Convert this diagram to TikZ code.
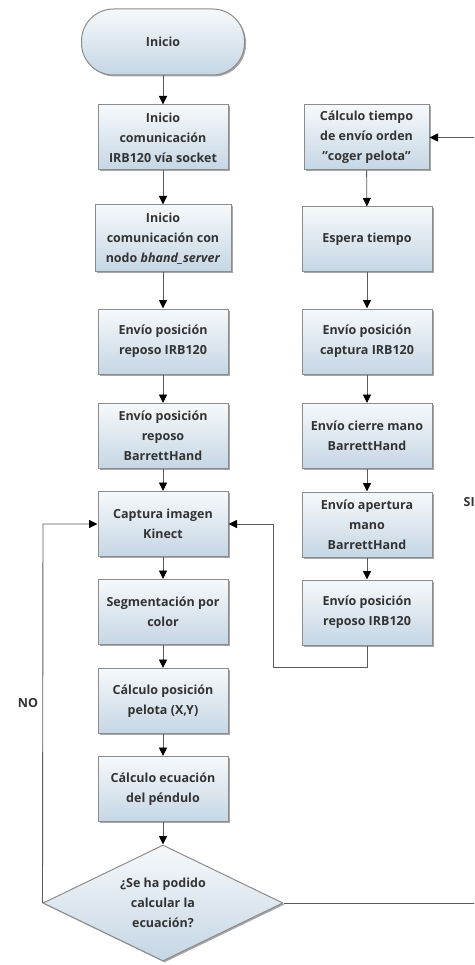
\documentclass[tikz,border=0pt]{standalone}
\usepackage{fontspec}
\setmainfont{Open Sans}
\usetikzlibrary{shapes.geometric,arrows.meta,shadows}
\definecolor{boxtop}{HTML}{F6F9FB}
\definecolor{boxbot}{HTML}{C5D6E4}
\definecolor{edgec}{HTML}{8C8C8C}
\definecolor{txt}{HTML}{333333}
\definecolor{lin}{HTML}{5A5A5A}
\begin{document}
\begin{tikzpicture}[x=1pt,y=-1pt,
 base/.style={draw=edgec, line width=1pt, top color=boxtop, bottom color=boxbot, text=txt,
   font=\fontsize{12.5}{20}\selectfont\bfseries, align=center, inner sep=0pt,
   drop shadow={shadow xshift=1.5pt, shadow yshift=-1.5pt, opacity=0.35, fill=black}},
 proc/.style={base, rectangle, minimum width=130pt, minimum height=65pt},
 term/.style={base, rectangle, rounded corners=32pt, minimum width=163pt, minimum height=66pt},
 dec/.style={base, diamond, shape aspect=2, minimum width=240pt, minimum height=116pt},
 arr/.style={draw=lin, line width=0.9pt, -{Triangle[length=8.5pt,width=8pt,color=black]}},
 lbl/.style={text=txt, font=\fontsize{12.5}{14}\selectfont\bfseries, inner sep=0pt}
]
\useasboundingbox (0,0) rectangle (474,965);
\clip (0,0) rectangle (474,965);

% left column
\node[term] (start) at (163,42) {Inicio};
\node[proc] (b1) at (163,137.5) {Inicio\\comunicación\\IRB120 vía socket};
\node[proc, minimum width=136pt, minimum height=67pt] (b2) at (163,238.5) {Inicio\\comunicación con\\nodo \textit{bhand\_server}};
\node[proc] (b3) at (163,341.5) {Envío posición\\reposo IRB120};
\node[proc] (b4) at (163,436) {Envío posición\\reposo\\BarrettHand};
\node[proc] (b5) at (163,524) {Captura imagen\\Kinect};
\node[proc] (b6) at (163,612) {Segmentación por\\color};
\node[proc] (b7) at (163,701) {Cálculo posición\\pelota (X,Y)};
\node[proc] (b8) at (163,789) {Cálculo ecuación\\del péndulo};
\node[dec] (d) at (163,903) {¿Se ha podido\\calcular la\\ecuación?};

% right column
\node[proc, minimum width=125pt] (r1) at (366.5,137.5) {Cálculo tiempo\\de envío orden\\\symbol{34}coger pelota\symbol{34}};
\node[proc] (r2) at (367,239.5) {Espera tiempo};
\node[proc] (r3) at (367,341.5) {Envío posición\\captura IRB120};
\node[proc] (r4) at (367,436) {Envío cierre mano\\BarrettHand};
\node[proc] (r5) at (367,524.5) {Envío apertura\\mano\\BarrettHand};
\node[proc] (r6) at (367,612.5) {Envío posición\\reposo IRB120};

% labels
\node[lbl] (no) at (28,703) {NO};
\node[lbl, anchor=west] (si) at (463.5,502) {SI};

% joints
\coordinate (rj) at (273,667);
\coordinate (nj) at (43,524);
\coordinate (sj) at (492,903);
\coordinate (sk) at (492,137.5);

% connectors
\draw[arr] (start) -- (b1);
\draw[arr] (b1) -- (b2);
\draw[arr] (b2) -- (b3);
\draw[arr] (b3) -- (b4);
\draw[arr] (b4) -- (b5);
\draw[arr] (b5) -- (b6);
\draw[arr] (b6) -- (b7);
\draw[arr] (b7) -- (b8);
\draw[arr] (b8) -- (d);
\draw[arr] (r1) -- (r2);
\draw[arr] (r2) -- (r3);
\draw[arr] (r3) -- (r4);
\draw[arr] (r4) -- (r5);
\draw[arr] (r5) -- (r6);
\draw[arr] (r6.south) |- (rj) |- (b5.east);
\draw[arr] (d.west) -- (nj) -- (b5.west);
\draw[arr] (d.east) -- (sj) -- (sk) -- (r1.east);
\end{tikzpicture}
\end{document}
